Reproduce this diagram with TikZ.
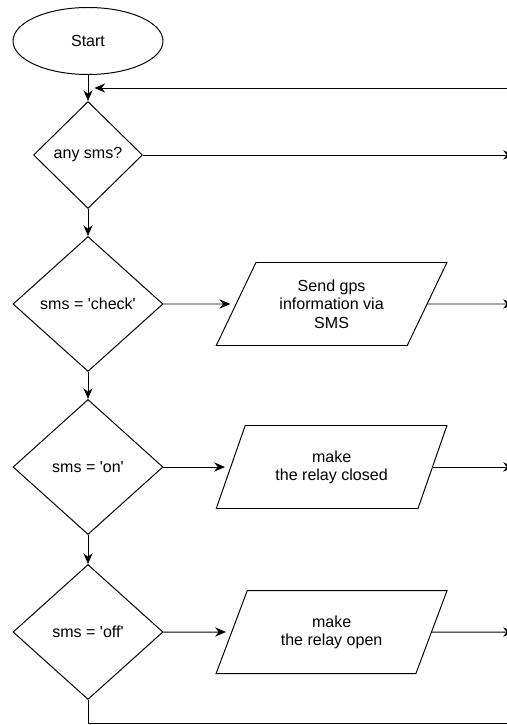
\documentclass[tikz,border=0pt]{standalone}
\usepackage{fontspec}
\setmainfont{Liberation Sans}
\usetikzlibrary{shapes.geometric,arrows.meta}

\begin{document}
\begin{tikzpicture}[
    line width = 0.7pt,
    every node/.style = {font=\fontsize{11.4pt}{13pt}\selectfont, align=center},
    terminal/.style = {draw, ellipse, minimum width=3.75cm, minimum height=1.675cm, inner sep=0pt},
    decision/.style = {draw, diamond, minimum width=3.75cm, minimum height=3.375cm, inner sep=0pt},
    io/.style = {draw, trapezium, trapezium left angle=60.5, trapezium right angle=119.5,
                 trapezium stretches, minimum width=5.775cm, minimum height=2.075cm, inner sep=0pt},
    arr/.style = {-{Stealth[length=2.7mm, width=2.3mm]}}
]
\useasboundingbox (0,0) rectangle (12.675,-18.125);

% start and the first test
\node[terminal] (start) at (2.2,-1.025) {Start};
\node[decision, minimum width=2.725cm, minimum height=2.675cm] (anysms) at (2.2,-3.875) {any sms?};

% the three commands
\node[decision] (check) at (2.2,-7.6) {sms = \textquotesingle check\textquotesingle};
\node[decision] (on) at (2.2,-11.675) {sms = \textquotesingle on\textquotesingle};
\node[decision] (off) at (2.2,-15.8) {sms = \textquotesingle off\textquotesingle};

\node[io] (sendgps) at (8.29,-7.6) {Send gps\\information via\\SMS};
\node[io] (relayclosed) at (8.29,-11.675) {make\\the relay closed};
\node[io] (relayopen) at (8.29,-15.8) {make\\the relay open};

% loose ends on the right
\coordinate (loopin) at (12.8,-2.2);
\coordinate (merge) at (2.36,-2.2);
\coordinate (exit1) at (12.85,-3.875);
\coordinate (exit2) at (12.85,-7.6);
\coordinate (exit3) at (12.85,-11.675);
\coordinate (exit4) at (12.85,-15.8);
\coordinate (loopout) at (12.8,-18.08);

% downward flow
\draw[arr] (start) -- (anysms);
\draw[arr] (anysms) -- (check);
\draw[arr] (check) -- (on);
\draw[arr] (on) -- (off);
\draw (off.south) |- (loopout);

% sideways
\draw[arr] (loopin) -- (merge);
\draw[arr] (anysms.east) -- (exit1);
\draw[arr, shorten >=1.3mm] (check.east) -- (sendgps.180);
\draw[arr, shorten >=1.3mm] (on.east) -- (relayclosed.180);
\draw[arr, shorten >=1.3mm] (off.east) -- (relayopen.180);
\draw[arr] (sendgps.0) -- (exit2);
\draw[arr] (relayclosed.0) -- (exit3);
\draw[arr] (relayopen.0) -- (exit4);

\end{tikzpicture}
\end{document}
